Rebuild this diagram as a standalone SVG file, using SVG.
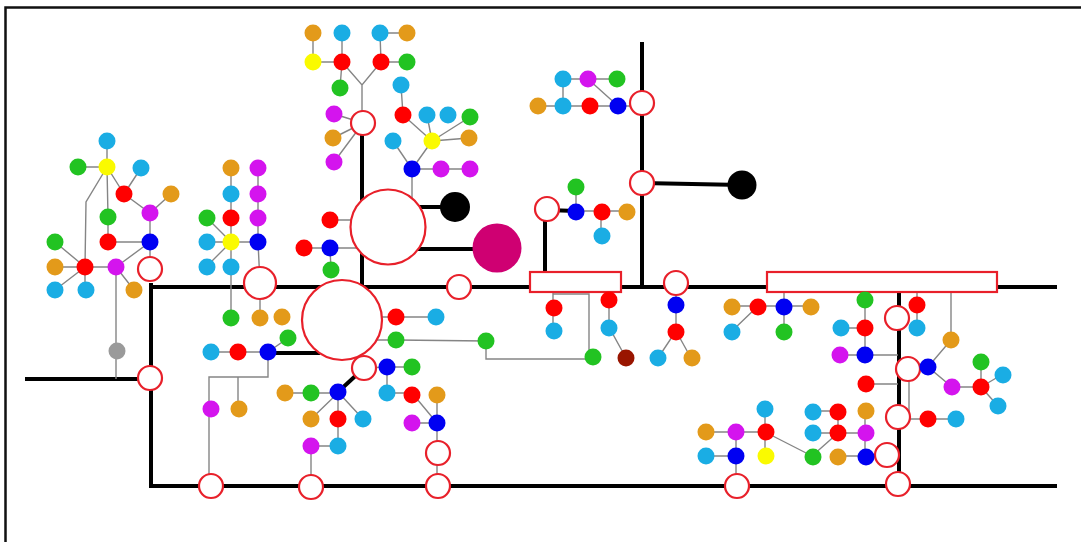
<svg xmlns="http://www.w3.org/2000/svg" width="1081" height="542" viewBox="0 0 1081 542">
<style>
.t{stroke:#858585;stroke-width:1.4;fill:none}
.k{stroke:#000;stroke-width:4;fill:none}
.h{fill:#fff;stroke:#E8202A;stroke-width:2.2}
.cy{fill:#1AADE4}.or{fill:#E39A1A}.gr{fill:#22C322}.ye{fill:#FAFA00}.rd{fill:#FF0000}
.bl{fill:#0000F2}.mg{fill:#D414EE}.gy{fill:#9A9A9A}.dr{fill:#991500}
</style>
<rect width="1081" height="542" fill="#fff"/>
<path d="M5.5,542 V7.5 H1081" fill="none" stroke="#111" stroke-width="2.5"/>
<g id="connectors">
<!-- thick -->
<path class="k" d="M150,287 H1057 M151,283 V486 H1057 M25,379 H150 M642,42 V287 M642,183 L742,185 M362,123 V287 M388,207 H455 M388,249 H497 M547,210 L576,211 M545,209 V272 M899,292 V484 M268,353 H320 M338,392 L364,368"/>
<!-- thin cluster A -->
<path class="t" d="M107,141 V167 M78,167 H107 L124,194 M141,168 L124,194 M107,167 L108,217 M107,167 L86,202 L85,267 M124,194 L150,213 L171,194 M150,213 V242 M108,217 V242 H150 L116,267 M150,242 V269 M116,267 H85 M116,267 L134,290 M116,267 V379 M85,267 L55,242 M85,267 H55 M85,267 L55,290 M85,267 V290"/>
<!-- cluster B -->
<path class="t" d="M231,168 V317 M258,168 V242 M231,242 L206,217 M231,242 H206 M231,242 L206,267 M231,242 H258 L260,283 V317 M210,352 H268 L288,338 M268,352 V377 H209 V486 M238,377 V409"/>
<!-- cluster C -->
<path class="t" d="M313,33 V62 H342 V33 M342,62 L340,88 M380,33 H407 M380,33 L381,62 H407 M342,62 L362,85 L381,62 M362,85 V123 M334,114 L363,123 M333,138 L363,123 M334,162 L363,123 M401,85 L403,115 L432,141 M427,115 L432,141 M470,117 L432,141 M469,138 L432,141 L412,169 M393,141 L412,169 H470 M412,169 V200"/>
<!-- cluster D -->
<path class="t" d="M330,220 H360 M304,248 H360 M330,248 L331,270"/>
<!-- cluster E/F -->
<path class="t" d="M396,317 H436 M376,317 H396 M376,340 H396 L486,341 V359 H593 M553,292 V331 M553,294 H589 V357 M609,292 V327 L626,358"/>
<!-- cluster G/H/I -->
<path class="t" d="M676,283 V331 L658,358 M676,331 L691,358 M563,79 H617 M563,79 V106 M538,106 H642 M588,79 L618,106 M576,186 V211 H627 M601,211 V236"/>
<!-- cluster J/K -->
<path class="t" d="M732,306 H810 M758,306 L732,331 M784,292 V331 M865,300 V355 M841,328 H865 M840,355 H898 M917,292 V328 M951,292 V340 L928,367 M908,369 L928,367 L952,387 H981 V361 M981,387 L1003,374 M981,387 L998,406 M909,369 V419 H956 M866,384 H898"/>
<!-- bottom right -->
<path class="t" d="M812,411 H838 V433 M812,433 H865 M865,411 V456 M838,433 L812,456 M838,456 H887 M765,409 V456 M706,432 H765 M736,432 V486 M706,456 H736 M765,432 L812,456"/>
<!-- cluster L -->
<path class="t" d="M285,393 H338 L311,419 M338,392 V446 H311 V487 M338,392 L363,419 M364,368 L387,367 H412 M387,367 V393 H412 L437,423 M437,395 V423 M412,423 H437 V487"/>
</g>
<!-- big / hollow nodes -->
<g id="h1"><circle class="h" cx="150" cy="269" r="12"/></g>
<g id="h2"><circle class="h" cx="150" cy="378" r="12"/></g>
<g id="h3"><circle class="h" cx="260" cy="283" r="16"/></g>
<g id="h4"><circle class="h" cx="363" cy="123" r="12"/></g>
<g id="h5"><circle class="h" cx="388" cy="227" r="37.5"/></g>
<g id="h6"><circle class="h" cx="342" cy="320" r="40"/></g>
<g id="b1"><circle cx="455" cy="207" r="15" fill="#000"/></g>
<g id="b2"><circle cx="497" cy="248" r="24.5" fill="#CF0072"/></g>
<g id="h7"><circle class="h" cx="459" cy="287" r="12"/></g>
<g id="h8"><circle class="h" cx="547" cy="209" r="12"/></g>
<g id="h9"><circle class="h" cx="642" cy="183" r="12"/></g>
<g id="h10"><circle class="h" cx="642" cy="103" r="12"/></g>
<g id="b3"><circle cx="742" cy="185" r="14.5" fill="#000"/></g>
<g id="h11"><circle class="h" cx="676" cy="283" r="12"/></g>
<g id="r1"><rect class="h" x="530" y="272" width="91" height="20"/></g>
<g id="r2"><rect class="h" x="767" y="272" width="230" height="20"/></g>
<g id="h12"><circle class="h" cx="897" cy="318" r="12"/></g>
<g id="h13"><circle class="h" cx="908" cy="369" r="12"/></g>
<g id="h14"><circle class="h" cx="898" cy="417" r="12"/></g>
<g id="h15"><circle class="h" cx="887" cy="455" r="12"/></g>
<g id="h16"><circle class="h" cx="898" cy="484" r="12"/></g>
<g id="h17"><circle class="h" cx="737" cy="486" r="12"/></g>
<g id="h18"><circle class="h" cx="438" cy="486" r="12"/></g>
<g id="h19"><circle class="h" cx="438" cy="453" r="12"/></g>
<g id="h20"><circle class="h" cx="311" cy="487" r="12"/></g>
<g id="h21"><circle class="h" cx="211" cy="486" r="12"/></g>
<g id="h22"><circle class="h" cx="364" cy="368" r="12"/></g>
<!-- cluster A dots -->
<g id="a1"><circle class="cy" cx="107" cy="141" r="8.5"/></g>
<g id="a2"><circle class="gr" cx="78" cy="167" r="8.5"/></g>
<g id="a3"><circle class="ye" cx="107" cy="167" r="8.5"/></g>
<g id="a4"><circle class="cy" cx="141" cy="168" r="8.5"/></g>
<g id="a5"><circle class="rd" cx="124" cy="194" r="8.5"/></g>
<g id="a6"><circle class="or" cx="171" cy="194" r="8.5"/></g>
<g id="a7"><circle class="gr" cx="108" cy="217" r="8.5"/></g>
<g id="a8"><circle class="mg" cx="150" cy="213" r="8.5"/></g>
<g id="a9"><circle class="rd" cx="108" cy="242" r="8.5"/></g>
<g id="a10"><circle class="bl" cx="150" cy="242" r="8.5"/></g>
<g id="a11"><circle class="gr" cx="55" cy="242" r="8.5"/></g>
<g id="a12"><circle class="or" cx="55" cy="267" r="8.5"/></g>
<g id="a13"><circle class="rd" cx="85" cy="267" r="8.5"/></g>
<g id="a14"><circle class="mg" cx="116" cy="267" r="8.5"/></g>
<g id="a15"><circle class="cy" cx="55" cy="290" r="8.5"/></g>
<g id="a16"><circle class="cy" cx="86" cy="290" r="8.5"/></g>
<g id="a17"><circle class="or" cx="134" cy="290" r="8.5"/></g>
<g id="a18"><circle class="gy" cx="117" cy="351" r="8.5"/></g>
<!-- cluster B dots -->
<g id="bb1"><circle class="or" cx="231" cy="168" r="8.5"/></g>
<g id="bb2"><circle class="mg" cx="258" cy="168" r="8.5"/></g>
<g id="bb3"><circle class="cy" cx="231" cy="194" r="8.5"/></g>
<g id="bb4"><circle class="mg" cx="258" cy="194" r="8.5"/></g>
<g id="bb5"><circle class="gr" cx="207" cy="218" r="8.5"/></g>
<g id="bb6"><circle class="rd" cx="231" cy="218" r="8.5"/></g>
<g id="bb7"><circle class="mg" cx="258" cy="218" r="8.5"/></g>
<g id="bb8"><circle class="cy" cx="207" cy="242" r="8.5"/></g>
<g id="bb9"><circle class="ye" cx="231" cy="242" r="8.5"/></g>
<g id="bb10"><circle class="bl" cx="258" cy="242" r="8.5"/></g>
<g id="bb11"><circle class="cy" cx="207" cy="267" r="8.5"/></g>
<g id="bb12"><circle class="cy" cx="231" cy="267" r="8.5"/></g>
<g id="bb13"><circle class="gr" cx="231" cy="318" r="8.5"/></g>
<g id="bb14"><circle class="or" cx="260" cy="318" r="8.5"/></g>
<g id="bb15"><circle class="or" cx="282" cy="317" r="8.5"/></g>
<g id="bb16"><circle class="gr" cx="288" cy="338" r="8.5"/></g>
<g id="bb17"><circle class="cy" cx="211" cy="352" r="8.5"/></g>
<g id="bb18"><circle class="rd" cx="238" cy="352" r="8.5"/></g>
<g id="bb19"><circle class="bl" cx="268" cy="352" r="8.5"/></g>
<g id="bb20"><circle class="mg" cx="211" cy="409" r="8.5"/></g>
<g id="bb21"><circle class="or" cx="239" cy="409" r="8.5"/></g>
<!-- cluster C dots -->
<g id="c1"><circle class="or" cx="313" cy="33" r="8.5"/></g>
<g id="c2"><circle class="cy" cx="342" cy="33" r="8.5"/></g>
<g id="c3"><circle class="cy" cx="380" cy="33" r="8.5"/></g>
<g id="c4"><circle class="or" cx="407" cy="33" r="8.5"/></g>
<g id="c5"><circle class="ye" cx="313" cy="62" r="8.5"/></g>
<g id="c6"><circle class="rd" cx="342" cy="62" r="8.5"/></g>
<g id="c7"><circle class="rd" cx="381" cy="62" r="8.5"/></g>
<g id="c8"><circle class="gr" cx="407" cy="62" r="8.5"/></g>
<g id="c9"><circle class="gr" cx="340" cy="88" r="8.5"/></g>
<g id="c10"><circle class="cy" cx="401" cy="85" r="8.5"/></g>
<g id="c11"><circle class="mg" cx="334" cy="114" r="8.5"/></g>
<g id="c12"><circle class="rd" cx="403" cy="115" r="8.5"/></g>
<g id="c13"><circle class="cy" cx="427" cy="115" r="8.5"/></g>
<g id="c14"><circle class="cy" cx="448" cy="115" r="8.5"/></g>
<g id="c15"><circle class="gr" cx="470" cy="117" r="8.5"/></g>
<g id="c16"><circle class="or" cx="333" cy="138" r="8.5"/></g>
<g id="c17"><circle class="ye" cx="432" cy="141" r="8.5"/></g>
<g id="c18"><circle class="or" cx="469" cy="138" r="8.5"/></g>
<g id="c19"><circle class="mg" cx="334" cy="162" r="8.5"/></g>
<g id="c20"><circle class="cy" cx="393" cy="141" r="8.5"/></g>
<g id="c21"><circle class="bl" cx="412" cy="169" r="8.5"/></g>
<g id="c22"><circle class="mg" cx="441" cy="169" r="8.5"/></g>
<g id="c23"><circle class="mg" cx="470" cy="169" r="8.5"/></g>
<!-- cluster D -->
<g id="d1"><circle class="rd" cx="330" cy="220" r="8.5"/></g>
<g id="d2"><circle class="rd" cx="304" cy="248" r="8.5"/></g>
<g id="d3"><circle class="bl" cx="330" cy="248" r="8.5"/></g>
<g id="d4"><circle class="gr" cx="331" cy="270" r="8.5"/></g>
<!-- cluster E/F -->
<g id="e1"><circle class="rd" cx="396" cy="317" r="8.5"/></g>
<g id="e2"><circle class="cy" cx="436" cy="317" r="8.5"/></g>
<g id="e3"><circle class="gr" cx="396" cy="340" r="8.5"/></g>
<g id="e4"><circle class="gr" cx="486" cy="341" r="8.5"/></g>
<g id="f1"><circle class="rd" cx="554" cy="308" r="8.5"/></g>
<g id="f2"><circle class="cy" cx="554" cy="331" r="8.5"/></g>
<g id="f3"><circle class="rd" cx="609" cy="300" r="8.5"/></g>
<g id="f4"><circle class="cy" cx="609" cy="328" r="8.5"/></g>
<g id="f5"><circle class="gr" cx="593" cy="357" r="8.5"/></g>
<g id="f6"><circle class="dr" cx="626" cy="358" r="8.5"/></g>
<!-- cluster G -->
<g id="g1"><circle class="bl" cx="676" cy="305" r="8.5"/></g>
<g id="g2"><circle class="rd" cx="676" cy="332" r="8.5"/></g>
<g id="g3"><circle class="cy" cx="658" cy="358" r="8.5"/></g>
<g id="g4"><circle class="or" cx="692" cy="358" r="8.5"/></g>
<!-- cluster H -->
<g id="i1"><circle class="cy" cx="563" cy="79" r="8.5"/></g>
<g id="i2"><circle class="mg" cx="588" cy="79" r="8.5"/></g>
<g id="i3"><circle class="gr" cx="617" cy="79" r="8.5"/></g>
<g id="i4"><circle class="or" cx="538" cy="106" r="8.5"/></g>
<g id="i5"><circle class="cy" cx="563" cy="106" r="8.5"/></g>
<g id="i6"><circle class="rd" cx="590" cy="106" r="8.5"/></g>
<g id="i7"><circle class="bl" cx="618" cy="106" r="8.5"/></g>
<!-- cluster I -->
<g id="j1"><circle class="gr" cx="576" cy="187" r="8.5"/></g>
<g id="j2"><circle class="bl" cx="576" cy="212" r="8.5"/></g>
<g id="j3"><circle class="rd" cx="602" cy="212" r="8.5"/></g>
<g id="j4"><circle class="or" cx="627" cy="212" r="8.5"/></g>
<g id="j5"><circle class="cy" cx="602" cy="236" r="8.5"/></g>
<!-- cluster J -->
<g id="k1"><circle class="or" cx="732" cy="307" r="8.5"/></g>
<g id="k2"><circle class="rd" cx="758" cy="307" r="8.5"/></g>
<g id="k3"><circle class="bl" cx="784" cy="307" r="8.5"/></g>
<g id="k4"><circle class="or" cx="811" cy="307" r="8.5"/></g>
<g id="k5"><circle class="cy" cx="732" cy="332" r="8.5"/></g>
<g id="k6"><circle class="gr" cx="784" cy="332" r="8.5"/></g>
<!-- cluster K -->
<g id="m1"><circle class="gr" cx="865" cy="300" r="8.5"/></g>
<g id="m2"><circle class="cy" cx="841" cy="328" r="8.5"/></g>
<g id="m3"><circle class="rd" cx="865" cy="328" r="8.5"/></g>
<g id="m4"><circle class="mg" cx="840" cy="355" r="8.5"/></g>
<g id="m5"><circle class="bl" cx="865" cy="355" r="8.5"/></g>
<g id="m6"><circle class="rd" cx="917" cy="305" r="8.5"/></g>
<g id="m7"><circle class="cy" cx="917" cy="328" r="8.5"/></g>
<g id="m8"><circle class="or" cx="951" cy="340" r="8.5"/></g>
<g id="m9"><circle class="bl" cx="928" cy="367" r="8.5"/></g>
<g id="m10"><circle class="mg" cx="952" cy="387" r="8.5"/></g>
<g id="m11"><circle class="rd" cx="981" cy="387" r="8.5"/></g>
<g id="m12"><circle class="gr" cx="981" cy="362" r="8.5"/></g>
<g id="m13"><circle class="cy" cx="1003" cy="375" r="8.5"/></g>
<g id="m14"><circle class="cy" cx="998" cy="406" r="8.5"/></g>
<g id="m15"><circle class="rd" cx="866" cy="384" r="8.5"/></g>
<g id="m16"><circle class="rd" cx="928" cy="419" r="8.5"/></g>
<g id="m17"><circle class="cy" cx="956" cy="419" r="8.5"/></g>
<!-- bottom right -->
<g id="p1"><circle class="cy" cx="813" cy="412" r="8.5"/></g>
<g id="p2"><circle class="rd" cx="838" cy="412" r="8.5"/></g>
<g id="p3"><circle class="or" cx="866" cy="411" r="8.5"/></g>
<g id="p4"><circle class="cy" cx="813" cy="433" r="8.5"/></g>
<g id="p5"><circle class="rd" cx="838" cy="433" r="8.5"/></g>
<g id="p6"><circle class="mg" cx="866" cy="433" r="8.5"/></g>
<g id="p7"><circle class="gr" cx="813" cy="457" r="8.5"/></g>
<g id="p8"><circle class="or" cx="838" cy="457" r="8.5"/></g>
<g id="p9"><circle class="bl" cx="866" cy="457" r="8.5"/></g>
<g id="q1"><circle class="cy" cx="765" cy="409" r="8.5"/></g>
<g id="q2"><circle class="or" cx="706" cy="432" r="8.5"/></g>
<g id="q3"><circle class="mg" cx="736" cy="432" r="8.5"/></g>
<g id="q4"><circle class="rd" cx="766" cy="432" r="8.5"/></g>
<g id="q5"><circle class="cy" cx="706" cy="456" r="8.5"/></g>
<g id="q6"><circle class="bl" cx="736" cy="456" r="8.5"/></g>
<g id="q7"><circle class="ye" cx="766" cy="456" r="8.5"/></g>
<!-- cluster L -->
<g id="l1"><circle class="bl" cx="387" cy="367" r="8.5"/></g>
<g id="l2"><circle class="gr" cx="412" cy="367" r="8.5"/></g>
<g id="l3"><circle class="cy" cx="387" cy="393" r="8.5"/></g>
<g id="l4"><circle class="rd" cx="412" cy="395" r="8.5"/></g>
<g id="l5"><circle class="or" cx="437" cy="395" r="8.5"/></g>
<g id="l6"><circle class="mg" cx="412" cy="423" r="8.5"/></g>
<g id="l7"><circle class="bl" cx="437" cy="423" r="8.5"/></g>
<g id="l8"><circle class="or" cx="285" cy="393" r="8.5"/></g>
<g id="l9"><circle class="gr" cx="311" cy="393" r="8.5"/></g>
<g id="l10"><circle class="bl" cx="338" cy="392" r="8.5"/></g>
<g id="l11"><circle class="or" cx="311" cy="419" r="8.5"/></g>
<g id="l12"><circle class="rd" cx="338" cy="419" r="8.5"/></g>
<g id="l13"><circle class="cy" cx="363" cy="419" r="8.5"/></g>
<g id="l14"><circle class="mg" cx="311" cy="446" r="8.5"/></g>
<g id="l15"><circle class="cy" cx="338" cy="446" r="8.5"/></g>
</svg>
